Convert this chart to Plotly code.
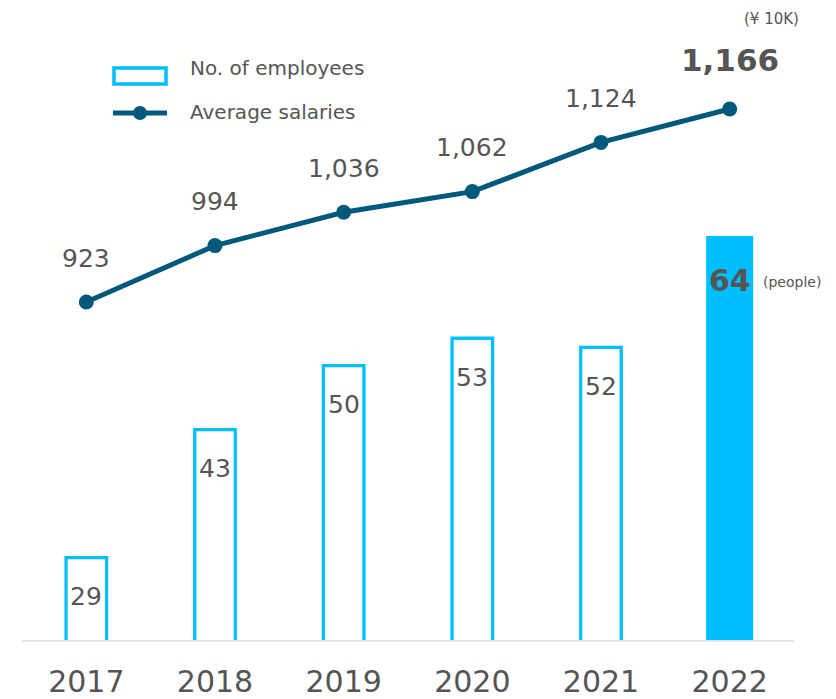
import plotly.graph_objects as go

years = ["2017", "2018", "2019", "2020", "2021", "2022"]
employees = [29, 43, 50, 53, 52, 64]
salaries = [923, 994, 1036, 1062, 1124, 1166]
salary_labels = ["923", "994", "1,036", "1,062", "1,124", "1,166"]
employee_labels = ["29", "43", "50", "53", "52", "64"]

CYAN = "#00BFFF"
NAVY = "#00587A"
TXT = "#555555"
FONT = "DejaVu Sans"

# page body has an 8px margin; target plot area in window pixels:
OFF = 8
X0, X1, Y0, Y1 = 22, 794, 20, 640
W, H = 836 - OFF, 699 - OFF
L, T = X0 - OFF, Y0 - OFF
R, B = W - (X1 - OFF), H - (Y1 - OFF)
PW, PH = X1 - X0, Y1 - Y0


def px(x):
    return (x - X0) / PW


def py(y):
    return (Y1 - y) / PH


fig = go.Figure()

fill_colors = ["white"] * (len(years) - 1) + [CYAN]
fig.add_trace(go.Bar(
    x=years, y=employees, yaxis="y",
    width=[0.315] * (len(years) - 1) + [0.34],
    marker=dict(color=fill_colors, line=dict(color=CYAN, width=3.3)),
    name="No. of employees", showlegend=False,
))

fig.add_trace(go.Scatter(
    x=years, y=salaries, yaxis="y2", mode="lines+markers",
    line=dict(color=NAVY, width=5),
    marker=dict(color=NAVY, size=15),
    name="Average salaries", showlegend=False,
))

annotations = []
n = len(years)
for i, (v, lab) in enumerate(zip(salaries, salary_labels)):
    last = i == n - 1
    annotations.append(dict(
        x=i, y=v, xref="x", yref="y2", text=f"<b>{lab}</b>" if last else lab,
        showarrow=False, xanchor="center", yanchor="middle", yshift=49 if last else 44,
        font=dict(family=FONT, size=31 if last else 25, color=TXT),
    ))
for i, (v, lab) in enumerate(zip(employees, employee_labels)):
    last = i == n - 1
    annotations.append(dict(
        x=i, y=v, xref="x", yref="y", text=f"<b>{lab}</b>" if last else lab,
        showarrow=False, xanchor="center", yanchor="middle", yshift=-43 if last else -39,
        font=dict(family=FONT, size=30 if last else 25, color=TXT),
    ))

annotations += [
    dict(x=px(771), y=py(19), xref="paper", yref="paper", text="(¥ 10K)",
         showarrow=False, xanchor="center", yanchor="middle",
         font=dict(family=FONT, size=15, color=TXT)),
    dict(x=px(792), y=py(282), xref="paper", yref="paper", text="(people)",
         showarrow=False, xanchor="center", yanchor="middle",
         font=dict(family=FONT, size=14, color=TXT)),
    dict(x=px(188), y=py(68), xref="paper", yref="paper", text="No. of employees",
         showarrow=False, xanchor="left", yanchor="middle",
         font=dict(family=FONT, size=20, color=TXT)),
    dict(x=px(188), y=py(112), xref="paper", yref="paper", text="Average salaries",
         showarrow=False, xanchor="left", yanchor="middle",
         font=dict(family=FONT, size=20, color=TXT)),
]

shapes = [
    dict(type="rect", xref="paper", yref="paper", x0=px(114), x1=px(166),
         y0=py(68), y1=py(84), line=dict(color=CYAN, width=3.5), fillcolor="white"),
    dict(type="line", xref="paper", yref="paper", x0=px(113), x1=px(167),
         y0=py(113), y1=py(113), line=dict(color=NAVY, width=5)),
    dict(type="circle", xref="paper", yref="paper", x0=px(133), x1=px(147),
         y0=py(106), y1=py(120), line=dict(color=NAVY, width=0), fillcolor=NAVY),
]

hidden = dict(showgrid=False, zeroline=False, showline=False, showticklabels=False,
              ticks="", automargin=False)

fig.update_layout(
    width=W, height=H,
    margin=dict(l=L, r=R, t=T, b=B, pad=0, autoexpand=False),
    paper_bgcolor="white", plot_bgcolor="white",
    barmode="overlay",
    xaxis=dict(type="category", range=[-0.5, 5.5], showgrid=False, zeroline=False,
               showline=True, linecolor="#E3E3E3", linewidth=2, automargin=False,
               ticks="", ticklabelstandoff=14,
               tickfont=dict(family=FONT, size=30, color=TXT)),
    yaxis=dict(range=[20, 87.8], **hidden),
    yaxis2=dict(range=[497.4, 1278.1], overlaying="y", **hidden),
    annotations=annotations,
    shapes=shapes,
    showlegend=False,
)

fig.write_html("out.html")
